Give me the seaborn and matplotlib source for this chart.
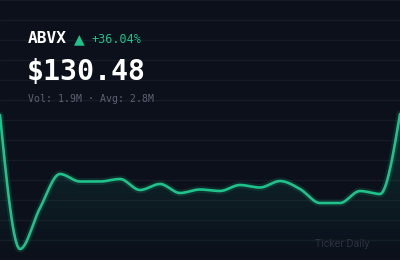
import numpy as np
import pandas as pd
import seaborn as sns
import matplotlib.pyplot as plt
from matplotlib.patches import Polygon

# series (index of day, level on a 0..260 scale)
days = list(range(21))
level = [145, 11, 52, 86, 78.5, 78.5, 81, 70, 76, 67, 70.5, 69,
         75, 72.5, 79, 71, 57, 57, 69, 66, 146]

ticker = 'ABVX'
change = '+36.04%'
price = '$130.48'
sub = 'Vol: 1.9M · Avg: 2.8M'
brand = 'Ticker Daily'

BG = '#0b101b'
GRID = '#161b27'
GREEN = '#1fc28a'


def monotone(x, y, n=30):
    # monotone cubic curve (same idea as d3 curveMonotoneX) for drawing only
    x = np.asarray(x, float)
    y = np.asarray(y, float)
    h = np.diff(x)
    s = np.diff(y) / h
    t = np.zeros_like(y)
    for i in range(1, len(y) - 1):
        p = (s[i - 1] * h[i] + s[i] * h[i - 1]) / (h[i - 1] + h[i])
        t[i] = (np.sign(s[i - 1]) + np.sign(s[i])) * min(abs(s[i - 1]), abs(s[i]), 0.5 * abs(p))
    t[0] = (3 * s[0] - t[1]) / 2
    t[-1] = (3 * s[-1] - t[-2]) / 2
    xs, ys = [], []
    for i in range(len(h)):
        u = np.linspace(0, 1, n, endpoint=False)
        h00 = 2 * u**3 - 3 * u**2 + 1
        h10 = u**3 - 2 * u**2 + u
        h01 = -2 * u**3 + 3 * u**2
        h11 = u**3 - u**2
        xs.append(x[i] + u * h[i])
        ys.append(h00 * y[i] + h10 * h[i] * t[i] + h01 * y[i + 1] + h11 * h[i] * t[i + 1])
    xs.append([x[-1]])
    ys.append([y[-1]])
    return np.concatenate(xs), np.concatenate(ys)


def main():
    sns.set_style('dark')
    plt.rcParams['font.family'] = ['DejaVu Sans']

    fig = plt.figure(figsize=(4, 2.6), dpi=100)
    fig.patch.set_facecolor(BG)
    ax = fig.add_axes([0, 0, 1, 1])
    ax.set_facecolor(BG)

    xs, ys = monotone(np.array(days) * 20, level)
    df = pd.DataFrame({'x': xs, 'y': ys})

    for g in range(0, 261, 20):
        ax.axhline(g, color=GRID, lw=1, zorder=0)

    # gradient fill under the curve
    grad = np.linspace(0.17, 0.0, 256).reshape(-1, 1)
    rgba = np.zeros((256, 1, 4))
    rgba[..., 0] = 0x1f / 255
    rgba[..., 1] = 0xc2 / 255
    rgba[..., 2] = 0x8a / 255
    rgba[..., 3] = grad
    im = ax.imshow(rgba, extent=[0, 400, 0, 150], origin='upper',
                   aspect='auto', zorder=1)
    poly = Polygon(np.column_stack([np.r_[xs, 400, 0], np.r_[ys, 0, 0]]),
                   closed=True, facecolor='none', edgecolor='none')
    ax.add_patch(poly)
    im.set_clip_path(poly)

    # soft glow + line
    ax.plot(xs, ys, color=GREEN, lw=5, alpha=0.14, zorder=2,
            solid_capstyle='round')
    sns.lineplot(data=df, x='x', y='y', ax=ax, color=GREEN, lw=1.9,
                 sort=False, zorder=3)

    ax.set_xlim(0, 400)
    ax.set_ylim(0, 260)
    ax.set_xlabel('')
    ax.set_ylabel('')
    ax.set_xticks([])
    ax.set_yticks([])
    for sp in ax.spines.values():
        sp.set_visible(False)

    mono = 'DejaVu Sans Mono'
    fig.text(28 / 400, 1 - 38.5 / 260, ticker, family=mono, weight='bold',
             fontsize=11.6, color='white', va='center')
    fig.text(73.5 / 400, 1 - 39.5 / 260, '▲', family='DejaVu Sans',
             fontsize=10, color=GREEN, va='center')
    fig.text(91 / 400, 1 - 39.5 / 260, change, family=mono,
             fontsize=8.5, color=GREEN, va='center')
    fig.text(27 / 400, 1 - 72 / 260, price, family=mono, weight='bold',
             fontsize=20.3, color='white', va='center')
    fig.text(28 / 400, 1 - 99 / 260, sub, family=mono,
             fontsize=7.1, color='#5b6271', va='center')
    fig.text(315 / 400, 1 - 244 / 260, brand, family='Roboto',
             fontsize=7.7, color='#2b3141', va='center')

    plt.savefig('out.png', dpi=100, facecolor=BG)


if __name__ == '__main__':
    main()
